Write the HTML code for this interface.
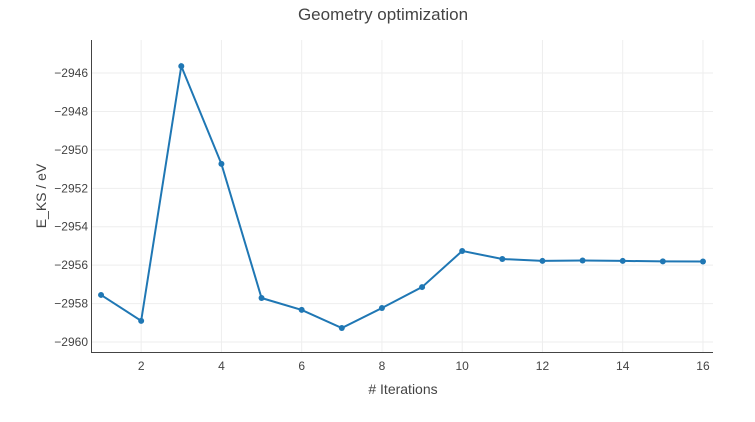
<!DOCTYPE html>
<html><head><meta charset="utf-8"><style>
body{margin:0;background:#fff;}
svg text{font-family:"Liberation Sans",sans-serif;fill:#444;}
</style></head><body>
<svg id="chart" width="755" height="417" xmlns="http://www.w3.org/2000/svg">
<text x="383" y="20" text-anchor="middle" font-size="17">Geometry optimization</text>
<g id="grid"></g><g id="axes"></g><g id="series"></g>
<text x="403" y="394" text-anchor="middle" font-size="14"># Iterations</text>
<text transform="translate(46,196) rotate(-90)" text-anchor="middle" font-size="14">E_KS / eV</text>
</svg>
<script>
const iterations=[1,2,3,4,5,6,7,8,9,10,11,12,13,14,15,16];
const energies=[-2957.55,-2958.9,-2945.64,-2950.73,-2957.71,-2958.33,-2959.27,-2958.23,-2957.14,-2955.26,-2955.68,-2955.78,-2955.76,-2955.78,-2955.8,-2955.81];
const xTicks=[2,4,6,8,10,12,14,16];
const yTicks=[-2960,-2958,-2956,-2954,-2952,-2950,-2948,-2946];
const L=91,R=713,T=40,B=352,xMin=0.75,xMax=16.25,yMin=-2960.52,yMax=-2944.28;
const sx=v=>L+(v-xMin)/(xMax-xMin)*(R-L);
const sy=v=>B-(v-yMin)/(yMax-yMin)*(B-T);
const NS='http://www.w3.org/2000/svg';
function mk(tag,attrs,parent){const e=document.createElementNS(NS,tag);for(const k in attrs)e.setAttribute(k,attrs[k]);parent.appendChild(e);return e;}
const grid=document.getElementById('grid'),axes=document.getElementById('axes'),series=document.getElementById('series');
xTicks.forEach(t=>{
 const g=mk('line',{x1:sx(t),x2:sx(t),y1:T,y2:B,stroke:'#eee'},grid);
 
 
 const tx=mk('text',{x:sx(t),y:B+18,'text-anchor':'middle','font-size':12},axes);
 tx.textContent=t;
 
 
});
yTicks.forEach(t=>{
 const g=mk('line',{x1:L,x2:R,y1:sy(t),y2:sy(t),stroke:'#eee'},grid);
 
 
 const tx=mk('text',{x:L-3,y:sy(t)+4,'text-anchor':'end','font-size':12},axes);
 tx.textContent='\u2212'+Math.abs(t);
 
 
});
const xa=mk('line',{x1:L,x2:R,y1:B+0.5,y2:B+0.5,stroke:'#444'},axes);


const ya=mk('line',{x1:L+0.5,x2:L+0.5,y1:T,y2:B,stroke:'#444'},axes);


const pts=iterations.map((x,i)=>sx(x)+','+sy(energies[i])).join(' ');
const line=mk('polyline',{points:pts,fill:'none',stroke:'#1f77b4','stroke-width':2},series);


iterations.forEach((x,i)=>{
 const c=mk('circle',{cx:sx(x),cy:sy(energies[i]),r:3,fill:'#1f77b4'},series);
 
 
});
</script>
</body></html>
